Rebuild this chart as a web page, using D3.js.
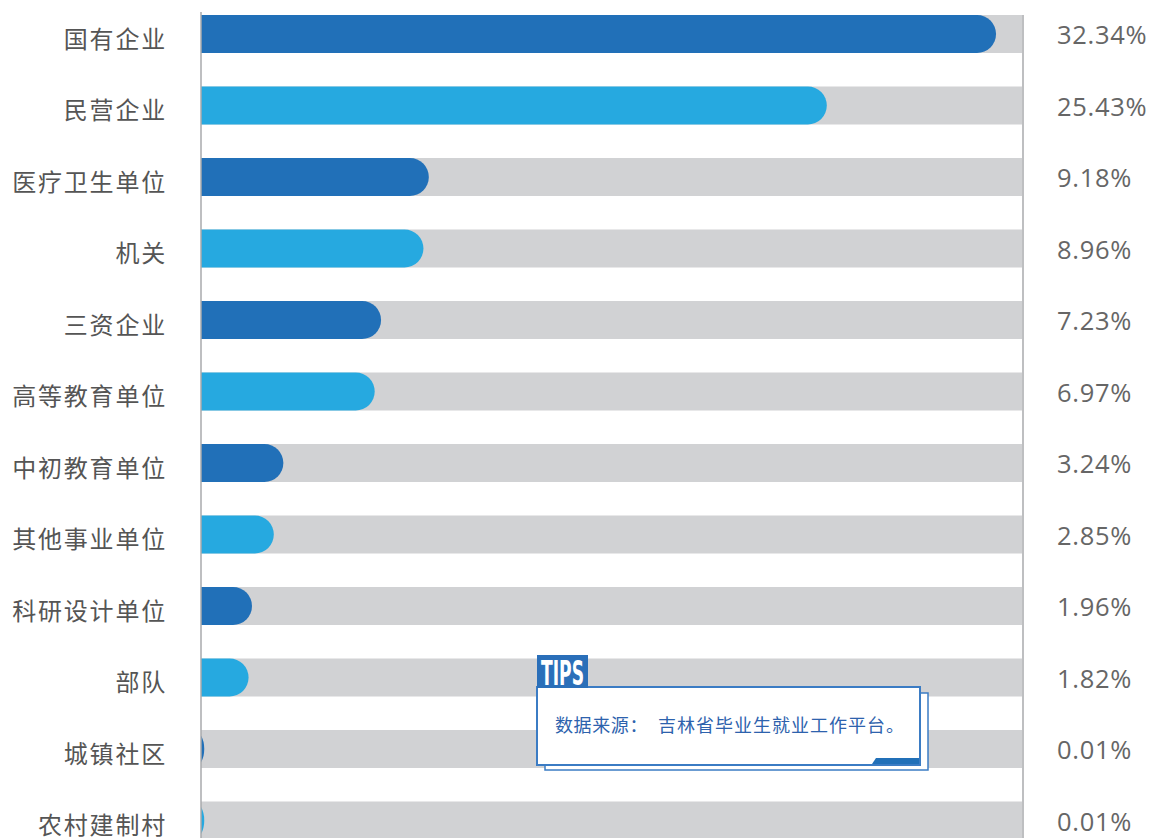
<!DOCTYPE html>
<html>
<head>
<meta charset="utf-8">
<script src="https://cdn.jsdelivr.net/npm/d3@7"></script>
<style>
  html, body { margin: 0; padding: 0; background: #fff; }
  svg { display: block; }
</style>
</head>
<body>
<div class="svg-content"></div>
<script>
// --- data ---------------------------------------------------------------
var categories = ["国有企业", "民营企业", "医疗卫生单位", "机关", "三资企业", "高等教育单位",
                  "中初教育单位", "其他事业单位", "科研设计单位", "部队", "城镇社区", "农村建制村"];
var shares = [32.34, 25.43, 9.18, 8.96, 7.23, 6.97, 3.24, 2.85, 1.96, 1.82, 0.01, 0.01];
var valueLabels = ["32.34%", "25.43%", "9.18%", "8.96%", "7.23%", "6.97%",
                   "3.24%", "2.85%", "1.96%", "1.82%", "0.01%", "0.01%"];
var tipsTitle = "TIPS";
var tipsSource = ["数据来源：", "吉林省毕业生就业工作平台。"];

// --- layout -------------------------------------------------------------
var width = 1151, height = 838;
var left = 201, right = 1022;
var darkBlue = "#2170b8", lightBlue = "#26a9e0", track = "#d1d2d4";

var svg = d3.select(".svg-content").append("svg")
    .attr("width", width)
    .attr("height", height);

var y = d3.scaleBand()
    .domain(categories)
    .range([15, 15 + 71.5 * (categories.length - 0.4685)])
    .paddingInner(0.4685)
    .paddingOuter(0);

// bars start a few px past the axis so tiny shares still show a sliver
var x = d3.scaleLinear()
    .domain([0, 33.4])
    .range([left + 3, right]);

var bh = y.bandwidth();

// clip so the rounded bars start flat at the axis
svg.append("clipPath").attr("id", "trackclip")
    .append("rect")
    .attr("x", left).attr("y", 0)
    .attr("width", right - left).attr("height", height);

// grey tracks
svg.selectAll(".track")
    .data(categories)
    .enter().append("rect")
    .attr("class", "track")
    .attr("x", left)
    .attr("y", function(d) { return y(d); })
    .attr("width", right - left)
    .attr("height", bh)
    .attr("fill", track);

// bars
svg.append("g").attr("clip-path", "url(#trackclip)")
    .selectAll(".bar")
    .data(shares)
    .enter().append("rect")
    .attr("class", "bar")
    .attr("x", left - bh / 2)
    .attr("y", function(d, i) { return y(categories[i]); })
    .attr("width", function(d) { return x(d) - left + bh / 2; })
    .attr("height", bh)
    .attr("rx", bh / 2)
    .attr("fill", function(d, i) { return i % 2 ? lightBlue : darkBlue; });

// vertical lines
svg.append("line")
    .attr("x1", left).attr("x2", left)
    .attr("y1", 12).attr("y2", height)
    .attr("stroke", "#a9aaac").attr("stroke-width", 1.5);
svg.append("line")
    .attr("x1", right + 1).attr("x2", right + 1)
    .attr("y1", 15).attr("y2", height)
    .attr("stroke", "#a9aaac").attr("stroke-width", 1.5);

// category labels
svg.selectAll(".cat")
    .data(categories)
    .enter().append("text")
    .attr("class", "cat")
    .attr("x", 167)
    .attr("y", function(d) { return y(d) + bh / 2 + 3; })
    .attr("text-anchor", "end")
    .attr("dominant-baseline", "central")
    .attr("font-family", "Noto Sans CJK SC, sans-serif")
    .attr("font-size", 24)
    .attr("letter-spacing", 1.8)
    .attr("fill", "#555")
    .text(function(d) { return d; });

// value labels
svg.selectAll(".val")
    .data(valueLabels)
    .enter().append("text")
    .attr("class", "val")
    .attr("x", 1057)
    .attr("y", function(d, i) { return y(categories[i]) + bh / 2; })
    .attr("dominant-baseline", "central")
    .attr("font-family", "Open Sans, sans-serif")
    .attr("font-size", 25.5)
    .attr("letter-spacing", 0.7)
    .attr("fill", "#666")
    .text(function(d) { return d; });

// --- tips box -------------------------------------------------------------
var tips = svg.append("g");
tips.append("rect")
    .attr("x", 545).attr("y", 693)
    .attr("width", 383).attr("height", 77)
    .attr("fill", "#fff")
    .attr("stroke", "#3b7cc4").attr("stroke-width", 1.5);
tips.append("rect")
    .attr("x", 537).attr("y", 687)
    .attr("width", 383).attr("height", 78)
    .attr("fill", "#fff")
    .attr("stroke", "#3b7cc4").attr("stroke-width", 2);
tips.append("path")
    .attr("d", "M876,758 L919,758 L919,764 L872,764 Z")
    .attr("fill", "#2170b8");
tips.append("rect")
    .attr("x", 537).attr("y", 655)
    .attr("width", 51).attr("height", 33)
    .attr("fill", "#2a6fb9");
tips.append("text")
    .attr("x", 541).attr("y", 685)
    .attr("textLength", 43)
    .attr("lengthAdjust", "spacingAndGlyphs")
    .attr("font-family", "DejaVu Sans Condensed, DejaVu Sans, sans-serif")
    .attr("font-weight", "bold")
    .attr("font-size", 34)
    .attr("fill", "#fff")
    .text(tipsTitle);
tips.append("text")
    .attr("x", 555).attr("y", 724)
    .attr("dominant-baseline", "central")
    .attr("font-family", "Noto Sans CJK SC, sans-serif")
    .attr("font-size", 18)
    .attr("letter-spacing", 0.6)
    .attr("fill", "#2d62ad")
    .text(tipsSource[0]);
tips.append("text")
    .attr("x", 658).attr("y", 724)
    .attr("dominant-baseline", "central")
    .attr("font-family", "Noto Sans CJK SC, sans-serif")
    .attr("font-size", 18)
    .attr("letter-spacing", 1)
    .attr("fill", "#2d62ad")
    .text(tipsSource[1]);
</script>
</body>
</html>
